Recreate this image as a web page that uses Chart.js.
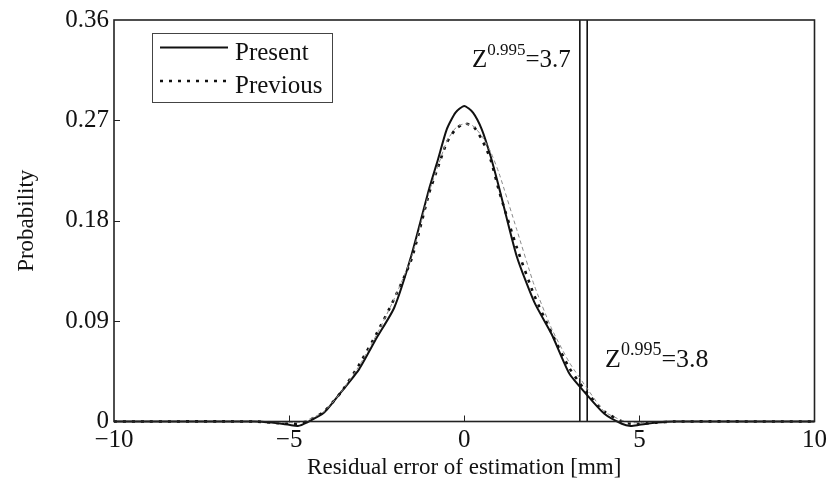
<!DOCTYPE html>
<html>
<head>
<meta charset="utf-8">
<script src="https://cdn.jsdelivr.net/npm/chart.js@4/dist/chart.umd.min.js"></script>
<style>
  html, body { margin: 0; padding: 0; background: #fff; }
  #wrap { width: 831px; height: 500px; }
</style>
</head>
<body>
<div id="wrap"><canvas id="residualChart"></canvas></div>
<script>
// residual error [mm] and probability
const xValues = [-10, -6, -5.5, -5, -4.75, -4.5, -4, -3.5, -3, -2.5, -2, -1.5, -1, -0.75, -0.5, -0.25,
  0, 0.25, 0.5, 0.75, 1, 1.5, 2, 2.5, 3, 3.5, 4, 4.5, 4.75, 5, 5.5, 6, 10];
const presentValues = [0, 0, -0.001, -0.003, -0.004, -0.001, 0.008, 0.027, 0.047, 0.075, 0.102, 0.150, 0.209, 0.235, 0.262, 0.277,
  0.283, 0.277, 0.262, 0.238, 0.209, 0.148, 0.107, 0.078, 0.043, 0.024, 0.007, -0.002, -0.004, -0.003, -0.001, 0, 0];
const previousValues = [0, 0, -0.001, -0.002, -0.002, 0.000, 0.009, 0.027, 0.051, 0.079, 0.110, 0.146, 0.205, 0.228, 0.250, 0.262,
  0.267, 0.265, 0.253, 0.235, 0.206, 0.156, 0.113, 0.079, 0.048, 0.026, 0.009, 0.000, -0.002, -0.002, -0.001, 0, 0];
const fitValues = [0, 0, 0, -0.001, -0.001, 0.001, 0.009, 0.027, 0.050, 0.078, 0.110, 0.148, 0.206, 0.229, 0.251, 0.263,
  0.267, 0.265, 0.256, 0.242, 0.222, 0.172, 0.122, 0.083, 0.053, 0.030, 0.009, 0.001, -0.001, -0.001, 0, 0, 0];
const thresholdLines = [3.30, 3.51];
const thresholdLabels = ['3.7', '3.8'];
const xTicks = [-10, -5, 0, 5, 10];
const yTicks = [0, 0.09, 0.18, 0.27, 0.36];

const serif = '"Liberation Serif", "Times New Roman", serif';

function points(ys) {
  return xValues.map((x, i) => ({ x: x, y: ys[i] }));
}

const datasets = [
  { label: 'Fit', data: points(fitValues), borderColor: '#8a8a8a', borderWidth: 1, borderDash: [4, 3], tension: 0.2 },
  { label: 'Previous', data: points(previousValues), borderColor: '#111', borderWidth: 2.6, borderDash: [3, 6], tension: 0.2 },
  { label: 'Present', data: points(presentValues), borderColor: '#111', borderWidth: 2, tension: 0.2 }
];
thresholdLines.forEach(v => {
  datasets.push({ label: 'Z', data: [{ x: v, y: 0 }, { x: v, y: 0.36 }], borderColor: '#111', borderWidth: 1.6 });
});
datasets.forEach(d => { d.pointRadius = 0; d.fill = false; d.clip = false; });

// frame, inward ticks, legend box and Z labels
const extras = {
  id: 'extras',
  afterDatasetsDraw(chart) {
    const ctx = chart.ctx;
    const a = chart.chartArea;
    const xs = chart.scales.x, ys = chart.scales.y;
    ctx.save();
    ctx.strokeStyle = '#222';
    ctx.lineWidth = 1.6;
    ctx.strokeRect(a.left, a.top, a.right - a.left, a.bottom - a.top);
    ctx.lineWidth = 1;
    ctx.beginPath();
    xTicks.slice(1, -1).forEach(v => {
      const px = Math.round(xs.getPixelForValue(v)) + 0.5;
      ctx.moveTo(px, a.bottom); ctx.lineTo(px, a.bottom - 6);
    });
    yTicks.slice(1, -1).forEach(v => {
      const py = Math.round(ys.getPixelForValue(v)) + 0.5;
      ctx.moveTo(a.left, py); ctx.lineTo(a.left + 6, py);
    });
    ctx.stroke();

    // legend
    ctx.fillStyle = '#fff';
    ctx.fillRect(152, 33, 180, 69);
    ctx.strokeStyle = '#444';
    ctx.lineWidth = 1;
    ctx.strokeRect(152.5, 33.5, 180, 69);
    ctx.strokeStyle = '#111';
    ctx.lineWidth = 2;
    ctx.beginPath(); ctx.moveTo(160, 47.5); ctx.lineTo(228, 47.5); ctx.stroke();
    ctx.lineWidth = 2.6;
    ctx.setLineDash([3, 6]);
    ctx.beginPath(); ctx.moveTo(160, 81); ctx.lineTo(228, 81); ctx.stroke();
    ctx.setLineDash([]);
    ctx.fillStyle = '#111';
    ctx.font = '25px ' + serif;
    ctx.textBaseline = 'alphabetic';
    ctx.fillText('Present', 235, 60);
    ctx.fillText('Previous', 235, 93);

    // Z labels
    const zPos = [[472, 67, 25, 17], [605, 367, 26, 18]];
    thresholdLabels.forEach((t, i) => {
      let [x, y, big, small] = zPos[i];
      ctx.font = big + 'px ' + serif;
      ctx.fillText('Z', x, y);
      x += ctx.measureText('Z').width;
      ctx.font = small + 'px ' + serif;
      ctx.fillText('0.995', x, y - 12);
      x += ctx.measureText('0.995').width;
      ctx.font = big + 'px ' + serif;
      ctx.fillText('=' + t, x, y);
    });
    ctx.restore();
  }
};

new Chart(document.getElementById('residualChart'), {
  type: 'line',
  data: { datasets: datasets },
  options: {
    responsive: true,
    maintainAspectRatio: false,
    animation: false,
    layout: { padding: { left: 0, right: 16, top: 18, bottom: 0 } },
    plugins: { legend: { display: false }, tooltip: { enabled: false } },
    scales: {
      x: {
        type: 'linear',
        min: -10,
        max: 10,
        afterBuildTicks: s => { s.ticks = xTicks.map(v => ({ value: v })); },
        afterFit: s => { s.height = 78.5; },
        grid: { display: false, drawTicks: false },
        border: { display: false },
        ticks: {
          color: '#111',
          padding: 4,
          maxRotation: 0,
          font: { family: serif, size: 25 },
          callback: v => String(v).replace('-', '\u2212')
        },
        title: {
          display: true,
          text: 'Residual error of estimation [mm]',
          color: '#111',
          font: { family: serif, size: 23 },
          padding: { top: 0, bottom: 18 }
        }
      },
      y: {
        min: 0,
        max: 0.36,
        afterBuildTicks: s => { s.ticks = yTicks.map(v => ({ value: v })); },
        afterFit: s => { s.width = 114; },
        grid: { display: false, drawTicks: false },
        border: { display: false },
        ticks: {
          color: '#111',
          padding: 5,
          font: { family: serif, size: 25 },
          callback: v => (v === 0 ? '0' : v.toFixed(2))
        },
        title: {
          display: true,
          text: 'Probability',
          color: '#111',
          font: { family: serif, size: 23 },
          padding: { top: 13, bottom: 0 }
        }
      }
    }
  },
  plugins: [extras]
});
</script>
</body>
</html>
